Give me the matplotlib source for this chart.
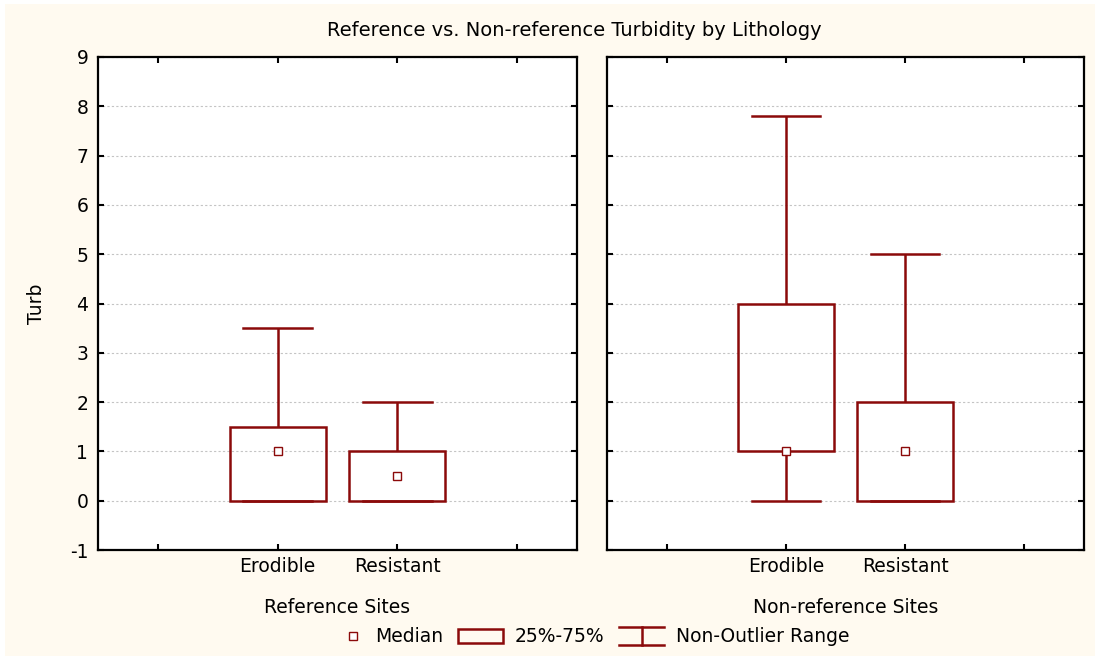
import matplotlib
matplotlib.use("Agg")
import matplotlib.pyplot as plt
from matplotlib.patches import Rectangle
from matplotlib.lines import Line2D
from matplotlib.legend_handler import HandlerBase

plt.rcParams['font.family'] = ['DejaVu Sans']
plt.rcParams['axes.unicode_minus'] = False

# Summary statistics of turbidity per lithology
categories = ["Erodible", "Resistant"]
groups = ["Reference Sites", "Non-reference Sites"]
medians = {"Reference Sites": [1.0, 0.5], "Non-reference Sites": [1.0, 1.0]}
q1 = {"Reference Sites": [0.0, 0.0], "Non-reference Sites": [1.0, 0.0]}
q3 = {"Reference Sites": [1.5, 1.0], "Non-reference Sites": [4.0, 2.0]}
whisk_lo = {"Reference Sites": [0.0, 0.0], "Non-reference Sites": [0.0, 0.0]}
whisk_hi = {"Reference Sites": [3.5, 2.0], "Non-reference Sites": [7.8, 5.0]}
y_ticks = [-1, 0, 1, 2, 3, 4, 5, 6, 7, 8, 9]

RED = "#8b0a0a"
CREAM = "#fffaf0"
W, H = 1095, 656
FS = 13.5

fig = plt.figure(figsize=(W / 100, H / 100), dpi=100, facecolor="white")
fig.patches.append(Rectangle((5 / W, 0), 1 - 5 / W, 1 - 4 / H, transform=fig.transFigure,
                             facecolor=CREAM, edgecolor="none", zorder=-10))

ax_l = fig.add_axes([98 / W, 106 / H, 479 / W, 493 / H])
ax_r = fig.add_axes([607 / W, 106 / H, 477 / W, 493 / H])

positions = [1.5, 2.5]
box_w = 0.8
cap_w = 0.57

for ax, grp in zip([ax_l, ax_r], groups):
    ax.set_facecolor("white")
    ax.set_xlim(0, 4)
    ax.set_ylim(-1, 9)
    ax.set_yticks(y_ticks)
    ax.set_xticks([0.5, 1.5, 2.5, 3.5])
    ax.set_xticklabels(["", categories[0], categories[1], ""])
    ax.grid(axis="y", color="#c4c4c4", linestyle=(0, (2, 2)), linewidth=0.8)
    ax.set_axisbelow(True)
    ax.tick_params(direction="in", length=4, width=1.5, top=True, right=True,
                   labelsize=FS, colors="black")
    ax.tick_params(axis="x", pad=5)
    ax.tick_params(axis="y", pad=7)
    for s in ax.spines.values():
        s.set_linewidth(1.6)
        s.set_color("black")
    for i, x in enumerate(positions):
        lo, hi = whisk_lo[grp][i], whisk_hi[grp][i]
        b1, b3, med = q1[grp][i], q3[grp][i], medians[grp][i]
        # whiskers and caps
        ax.plot([x, x], [b3, hi], color=RED, lw=1.8, zorder=3, solid_capstyle="butt")
        ax.plot([x, x], [lo, b1], color=RED, lw=1.8, zorder=3, solid_capstyle="butt")
        ax.plot([x - cap_w / 2, x + cap_w / 2], [hi, hi], color=RED, lw=1.8, zorder=3)
        ax.plot([x - cap_w / 2, x + cap_w / 2], [lo, lo], color=RED, lw=1.8, zorder=3)
        # interquartile box
        ax.add_patch(Rectangle((x - box_w / 2, b1), box_w, b3 - b1, facecolor="none",
                               edgecolor=RED, lw=1.8, zorder=4))
        # median marker
        ax.plot([x], [med], marker="s", markersize=6, markerfacecolor="white",
                markeredgecolor=RED, markeredgewidth=1.0, zorder=5, linestyle="none")
    ax.set_xlabel(grp, fontsize=FS, labelpad=16)

ax_l.set_ylabel("Turb", fontsize=FS, labelpad=17)
ax_r.set_yticklabels([])

fig.text(574 / W, 1 - 30 / H, "Reference vs. Non-reference Turbidity by Lithology",
         ha="center", va="center", fontsize=14)


class MedianHandler(HandlerBase):
    def create_artists(self, legend, orig_handle, xdescent, ydescent, width, height,
                       fontsize, trans):
        xm = -xdescent + width - 8
        ym = -ydescent + height / 2
        return [Line2D([xm], [ym], marker="s", markersize=6, markerfacecolor="white",
                       markeredgecolor=RED, markeredgewidth=1.0, linestyle="none",
                       transform=trans)]


class WhiskerHandler(HandlerBase):
    def create_artists(self, legend, orig_handle, xdescent, ydescent, width, height,
                       fontsize, trans):
        x0, x1 = -xdescent, -xdescent + width
        xm = (x0 + x1) / 2
        y0, y1 = -ydescent - 2, -ydescent + height + 2
        kw = dict(color=RED, lw=1.8, transform=trans)
        return [Line2D([x0, x1], [y1, y1], **kw),
                Line2D([xm, xm], [y0, y1], **kw),
                Line2D([x0, x1], [y0, y0], **kw)]


class MedianKey:
    pass


class WhiskerKey:
    pass


h_box = Rectangle((0, 0), 1, 1, facecolor="none", edgecolor=RED, lw=1.8)
fig.legend([MedianKey(), h_box, WhiskerKey()], ["Median", "25%-75%", "Non-Outlier Range"],
           handler_map={MedianKey: MedianHandler(), WhiskerKey: WhiskerHandler()},
           loc="center", bbox_to_anchor=(584 / W, 1 - 637 / H), ncol=3, frameon=False,
           fontsize=FS, handlelength=2.4, handletextpad=0.6, columnspacing=0.8)

fig.savefig("out.png", dpi=100, facecolor=fig.get_facecolor())
